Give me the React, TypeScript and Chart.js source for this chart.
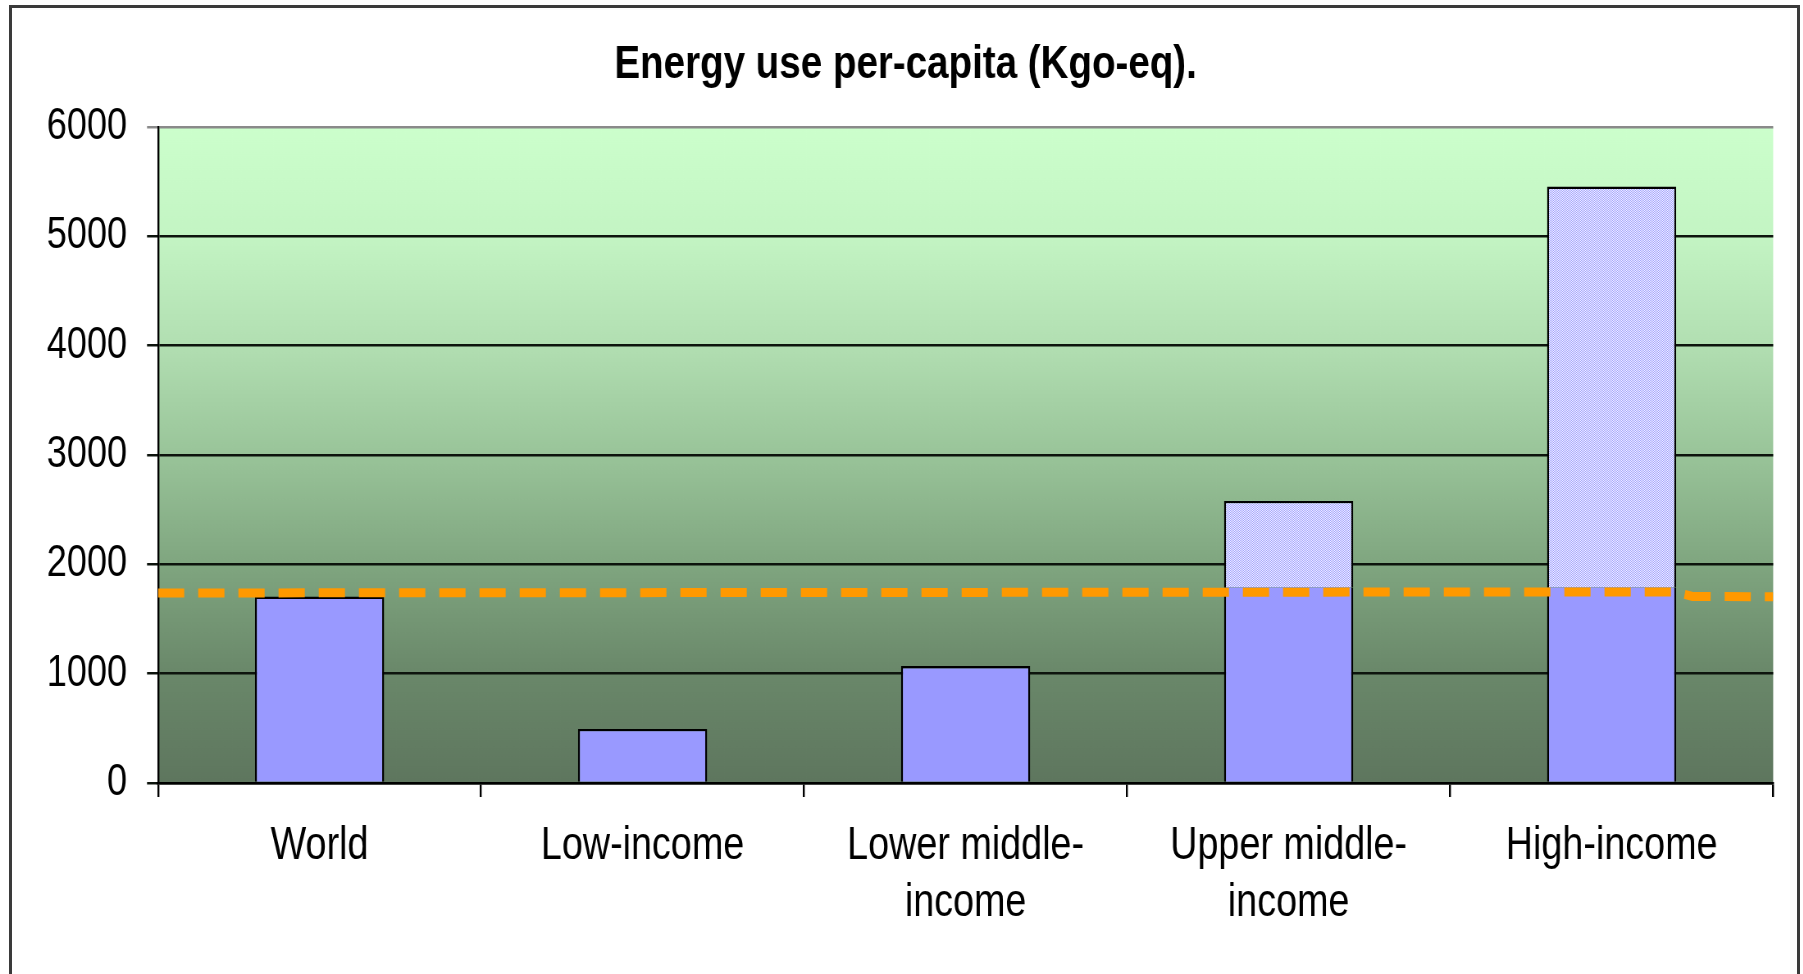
import React, { useEffect, useRef } from "react";
import { Chart, registerables } from "chart.js";

Chart.register(...registerables);

const categories: (string | string[])[] = [
  "World",
  "Low-income",
  ["Lower middle-", "income"],
  ["Upper middle-", "income"],
  "High-income",
];
// Energy use up to the world average level (solid part)
const baseValues: number[] = [1705, 495, 1070, 1790, 1790];
// Energy use above the world average (hatched part)
const excessValues: (number | null)[] = [null, null, null, 790, 3665];
// Dashed world-average reference line (x in category units 0..5)
const avgLineX: number[] = [0, 4.7, 4.75, 5];
const avgLineY: number[] = [1738, 1748, 1706, 1704];
const yTicks: number[] = [0, 1000, 2000, 3000, 4000, 5000, 6000];
const yTickLabels: string[] = ["0", "1000", "2000", "3000", "4000", "5000", "6000"];

const TITLE = "Energy use per-capita (Kgo-eq).";
const FONT = "'Liberation Sans', Arial, sans-serif";

// The reference uses a narrow face; the chart is laid out wider and squeezed horizontally.
const SX = 0.82;
const OUT_W = 1803;
const OUT_H = 974;
const LOG_W = Math.round(OUT_W / SX);
const BW = 2.4;

export default function App() {
  const ref = useRef<HTMLCanvasElement | null>(null);

  useEffect(() => {
    document.body.style.margin = "0";
    const canvas = ref.current;
    if (!canvas) return;

    const pc = document.createElement("canvas");
    pc.width = 2;
    pc.height = 2;
    const pctx = pc.getContext("2d")!;
    pctx.fillStyle = "#F4F4FF";
    pctx.fillRect(0, 0, 2, 2);
    pctx.fillStyle = "#A0A0FF";
    pctx.fillRect(0, 0, 1, 1);
    pctx.fillRect(1, 1, 1, 1);
    const ctx0 = canvas.getContext("2d")!;
    const hatch = ctx0.createPattern(pc, "repeat")!;

    const bgPlugin = {
      id: "plotBg",
      beforeDraw(chart: any) {
        const { ctx, chartArea } = chart;
        if (!chartArea) return;
        const g = ctx.createLinearGradient(0, chartArea.top, 0, chartArea.bottom);
        g.addColorStop(0, "#CCFFCC");
        g.addColorStop(0.17, "#C3F4C3");
        g.addColorStop(0.33, "#B2DFB2");
        g.addColorStop(0.5, "#99C499");
        g.addColorStop(0.67, "#7FA57F");
        g.addColorStop(0.83, "#6A886A");
        g.addColorStop(1, "#5E765E");
        ctx.save();
        ctx.fillStyle = g;
        ctx.fillRect(chartArea.left, chartArea.top, chartArea.right - chartArea.left, chartArea.bottom - chartArea.top);
        ctx.restore();
      },
    };

    const chart = new Chart(canvas, {
      type: "bar",
      data: {
        labels: categories,
        datasets: [
          {
            type: "line",
            label: "World average",
            data: avgLineX.map((x, i) => ({ x, y: avgLineY[i] })),
            xAxisID: "xLine",
            yAxisID: "y",
            borderColor: "#FF9900",
            borderWidth: 9,
            borderDash: [32, 17],
            borderCapStyle: "butt",
            pointRadius: 0,
            fill: false,
            tension: 0,
            order: 0,
          } as any,
          {
            label: "Base",
            data: baseValues,
            backgroundColor: "#9999FF",
            borderColor: "#000000",
            borderSkipped: false,
            borderWidth: ((c: any) =>
              excessValues[c.dataIndex]
                ? { top: 0, bottom: 0, left: BW, right: BW }
                : { top: BW, bottom: 0, left: BW, right: BW }) as any,
            barPercentage: 0.4,
            categoryPercentage: 1,
            grouped: false,
            stack: "s",
            order: 1,
          },
          {
            label: "Excess",
            data: excessValues,
            backgroundColor: hatch,
            borderColor: "#000000",
            borderSkipped: false,
            borderWidth: { top: BW, bottom: 0, left: BW, right: BW } as any,
            barPercentage: 0.4,
            categoryPercentage: 1,
            grouped: false,
            stack: "s",
            order: 1,
          },
        ],
      },
      options: {
        animation: false,
        responsive: false,
        layout: { padding: { left: 46.4, right: 36.6, top: 0, bottom: 0 } },
        plugins: {
          legend: { display: false },
          tooltip: { enabled: false },
          title: {
            display: true,
            text: TITLE,
            color: "#000000",
            font: { family: FONT, size: 47, weight: "bold", lineHeight: 1.2 },
            padding: { top: 37.3, bottom: 33.3 },
          },
        },
        scales: {
          x: {
            type: "category",
            stacked: true,
            offset: true,
            grid: {
              display: true,
              drawOnChartArea: false,
              offset: true,
              tickLength: 14,
              color: "#000000",
              lineWidth: 2.4,
            },
            border: { display: true, color: "#000000", width: 2.5 },
            ticks: {
              color: "#000000",
              padding: 20.5,
              maxRotation: 0,
              autoSkip: false,
              font: { family: FONT, size: 46, lineHeight: 1.25 },
            },
            afterFit(scale: any) {
              scale.height = 191;
            },
          },
          xLine: {
            type: "linear",
            display: false,
            offset: false,
            grid: { offset: false },
            min: 0,
            max: 5,
          },
          y: {
            type: "linear",
            stacked: true,
            min: 0,
            max: 6000,
            afterBuildTicks(scale: any) {
              scale.ticks = yTicks.map((v) => ({ value: v }));
            },
            grid: {
              display: true,
              drawOnChartArea: true,
              tickLength: 13.4,
              color: (c: any) => (c.tick && c.tick.value === 6000 ? "#8a8a8a" : "#0d140d"),
              lineWidth: 2.5,
            },
            border: { display: true, color: "#000000", width: 2.4 },
            ticks: {
              color: "#000000",
              padding: 24.4,
              font: { family: FONT, size: 44 },
              callback: (_v: any, i: number) => yTickLabels[i],
            },
            afterFit(scale: any) {
              scale.width = 146.3;
            },
          },
        },
      },
      plugins: [bgPlugin],
    });

    return () => chart.destroy();
  }, []);

  return (
    <div style={{ position: "relative", width: OUT_W, height: OUT_H, overflow: "hidden", background: "#ffffff" }}>
      <div
        style={{
          position: "absolute",
          left: 0,
          top: 0,
          width: LOG_W,
          height: OUT_H,
          transform: `scaleX(${SX})`,
          transformOrigin: "0 0",
        }}
      >
        <canvas ref={ref} width={LOG_W} height={OUT_H} style={{ display: "block", width: LOG_W, height: OUT_H }} />
      </div>
      <div
        style={{
          position: "absolute",
          left: 9,
          top: 5,
          width: 1791,
          height: 1100,
          border: "3px solid #3a3a3a",
          boxSizing: "border-box",
          pointerEvents: "none",
        }}
      />
    </div>
  );
}
